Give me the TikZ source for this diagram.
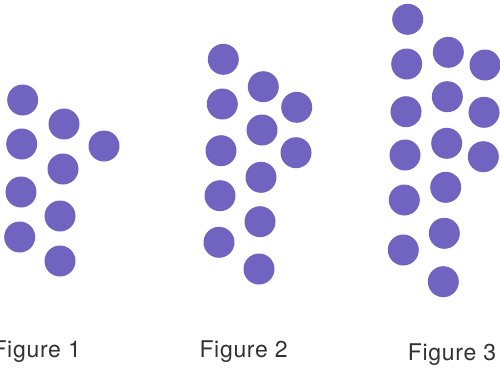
\documentclass[tikz,border=0pt]{standalone}
\usepackage{fontspec}
\newfontfamily\capfont[LetterSpace=3]{TeX Gyre Heros}
\usetikzlibrary{positioning}
\definecolor{dotcolor}{RGB}{112,100,192}
\definecolor{capcolor}{RGB}{50,50,50}
\tikzset{
  dot/.style={circle, fill=dotcolor, draw=none, minimum size=31pt, inner sep=0pt},
  figcap/.style={font=\capfont\fontsize{23}{27}\selectfont, text=capcolor, inner sep=0pt},
}

\begin{document}
\begin{tikzpicture}[x=1pt, y=-1pt]
    \useasboundingbox (0,0) rectangle (500,373);
    % Figure 1
    \foreach \px/\py [count=\i] in {22.7/100, 21.7/144, 21/192, 19.7/237,
        64/124, 63/169, 60/216, 60/261, 104/146}
      \node[dot] (fa\i) at (\px,\py) {};
    % Figure 2
    \foreach \px/\py [count=\i] in {223.3/59.3, 222.3/104, 221/150.7, 220/195.7, 219/242.3,
        263.3/86.7, 262/130, 261/177.3, 260/221.7, 259/269,
        296.7/107.3, 296/152.7}
      \node[dot] (fb\i) at (\px,\py) {};
    % Figure 3
    \foreach \px/\py [count=\i] in {407.7/19.3, 406.7/64, 406/111.7, 405/155, 404.3/200, 403.3/250,
        448.3/52.3, 447.3/96.7, 446.7/143.3, 445.7/187.3, 444.3/233.3, 443.3/281.7,
        485/65, 484/112.3, 483.3/156.7}
      \node[dot] (fc\i) at (\px,\py) {};
    % captions
    \node[figcap, anchor=base east] (cap1) at (81,357.5) {Figure 1};
    \node[figcap, anchor=base west] (cap2) at (199.3,357.7) {Figure 2};
    \node[figcap, anchor=base west] (cap3) at (407.7,360) {Figure 3};
  \end{tikzpicture}
\end{document}
